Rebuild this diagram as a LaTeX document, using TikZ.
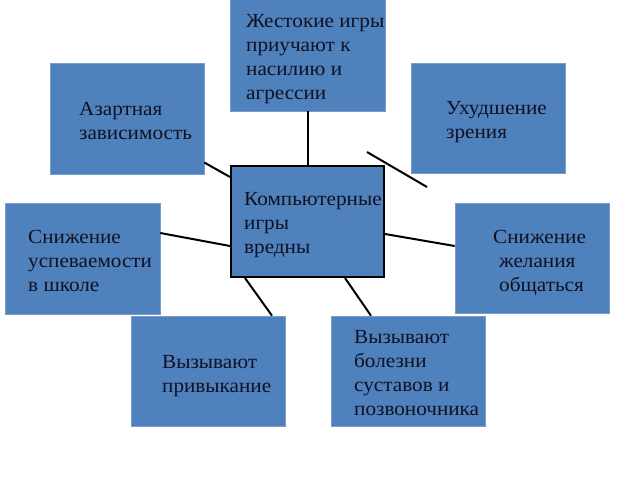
\documentclass[tikz,border=0pt]{standalone}
\usepackage{fontspec}
\setmainfont{Liberation Serif}[FakeStretch=1.06]
\usetikzlibrary{calc}
\definecolor{boxblue}{HTML}{4F81BD}
\definecolor{boxedge}{HTML}{7A9CCB}
\definecolor{txtcol}{HTML}{111122}
\tikzset{
  box/.style={rectangle, fill=boxblue, draw=boxedge, line width=0.6pt, inner sep=0pt},
  mainbox/.style={rectangle, fill=boxblue, draw=black, line width=2pt, inner sep=0pt},
  txt/.style={anchor=north west, inner sep=0pt, align=left, text=txtcol,
    font=\fontsize{20}{24}\selectfont},
  conn/.style={draw=black, line width=2pt}
}
\newcommand{\mkbox}[6]{% name, style, x1,y1,x2,y2
  \node[#2, minimum width={#5-#3}, minimum height={#6-#4}] (#1) at ({(#3+#5)/2},{(#4+#6)/2}) {};}
\begin{document}
\begin{tikzpicture}[x=1pt,y=-1pt]
\useasboundingbox (0,0) rectangle (640,480);
\coordinate (d1) at (367,152);
\coordinate (d2) at (427,187);
% boxes
\mkbox{top}{box}{230}{-1}{385}{111}
\mkbox{azart}{box}{50}{63}{204}{174}
\mkbox{uhud}{box}{411}{63}{565}{173}
\mkbox{snizh1}{box}{5}{203}{160}{314}
\mkbox{snizh2}{box}{455}{203}{609}{313}
\mkbox{privyk}{box}{131}{316}{285}{426}
\mkbox{bolezni}{box}{331}{316}{485}{426}
\mkbox{center}{mainbox}{231}{166}{384}{277}
% connectors
\draw[conn] (top.south) -- (center.north);
\draw[conn] ([yshift=-44pt]azart.east) -- ([yshift=44.5pt]center.west);
\draw[conn] ([yshift=25.5pt]snizh1.east) -- ([yshift=-24.5pt]center.west);
\draw[conn] ([yshift=-12.5pt]center.east) -- ([yshift=12pt]snizh2.west);
\draw[conn] ([xshift=-62.5pt]center.south) -- ([xshift=64pt]privyk.north);
\draw[conn] ([xshift=37.5pt]center.south) -- ([xshift=-37pt]bolezni.north);
\draw[conn] (d1) -- (d2);
% texts
\node[txt] (toptxt) at (246,27-16.8) {\strut Жестокие игры\\приучают к\\насилию и\\агрессии};
\node[txt] (azarttxt) at (79,115-16.8) {\strut Азартная\\зависимость};
\node[txt] (uhudtxt) at (446,114-16.8) {\strut Ухудшение\\зрения};
\node[txt] (centertxt) at (244,205-16.8) {\strut Компьютерные\\игры\\вредны};
\node[txt] (snizh1txt) at (28,243-16.8) {\strut Снижение\\успеваемости\\в школе};
\node[txt] (snizh2txt) at (493,243-16.8) {\strut Снижение\\\hspace*{6pt}желания\\\hspace*{6pt}общаться};
\node[txt] (privyktxt) at (162,368-16.8) {\strut Вызывают\\привыкание};
\node[txt] (boleznitxt) at (354,343-16.8) {\strut Вызывают\\болезни\\суставов и\\позвоночника};
\end{tikzpicture}
\end{document}
